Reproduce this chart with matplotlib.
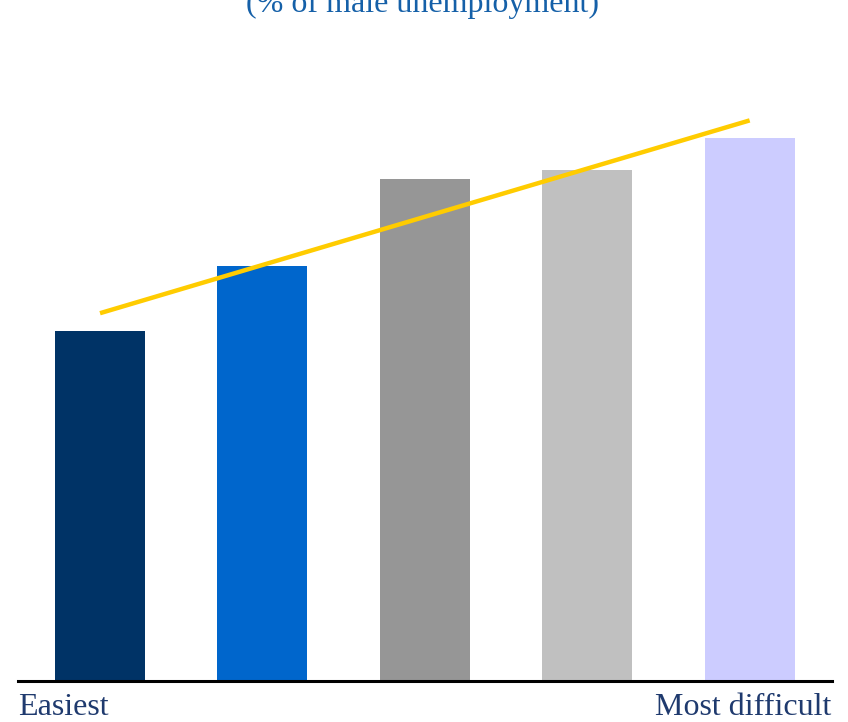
import numpy as np
import matplotlib
matplotlib.use("Agg")
import matplotlib.pyplot as plt

# Unemployment relative to male unemployment, by difficulty group
groups = ["Easiest", "2", "3", "4", "Most difficult"]
values = [35.0, 41.5, 50.2, 51.1, 54.3]
bar_colors = ["#003366", "#0066CC", "#969696", "#C0C0C0", "#CCCCFF"]
end_labels = ["Easiest", "Most difficult"]
title_text = "(% of male unemployment)"

W, H = 848, 722
fig = plt.figure(figsize=(W / 100, H / 100), dpi=100)
ax = fig.add_axes([18 / W, 41 / H, (832 - 18) / W, (681) / H])

x = np.arange(len(values))
ax.bar(x, values, width=0.555, color=bar_colors, zorder=2)

# Linear trend across the groups
slope, intercept = np.polyfit(x, values, 1)
ax.plot(x, slope * x + intercept, color="#FFCC00", lw=3.2, zorder=3,
        solid_capstyle="butt")

ax.set_xlim(-0.505, 4.507)
ax.set_ylim(0, 68.1)
for s in ["top", "right", "left"]:
    ax.spines[s].set_visible(False)
ax.spines["bottom"].set_linewidth(2.2)
ax.spines["bottom"].set_color("black")
ax.set_xticks([])
ax.set_yticks([])

serif = ["Liberation Serif", "DejaVu Serif"]
fig.text(18 / W, 1 - 715 / H, end_labels[0], family=serif, fontsize=23,
         color="#1F3A6E", ha="left", va="baseline")
fig.text(831 / W, 1 - 715 / H, end_labels[1], family=serif, fontsize=23,
         color="#1F3A6E", ha="right", va="baseline")
fig.text(423 / W, 1 - 12 / H, title_text, family=serif, fontsize=23,
         color="#1560A8", ha="center", va="baseline")

fig.savefig("out.png", dpi=100)
